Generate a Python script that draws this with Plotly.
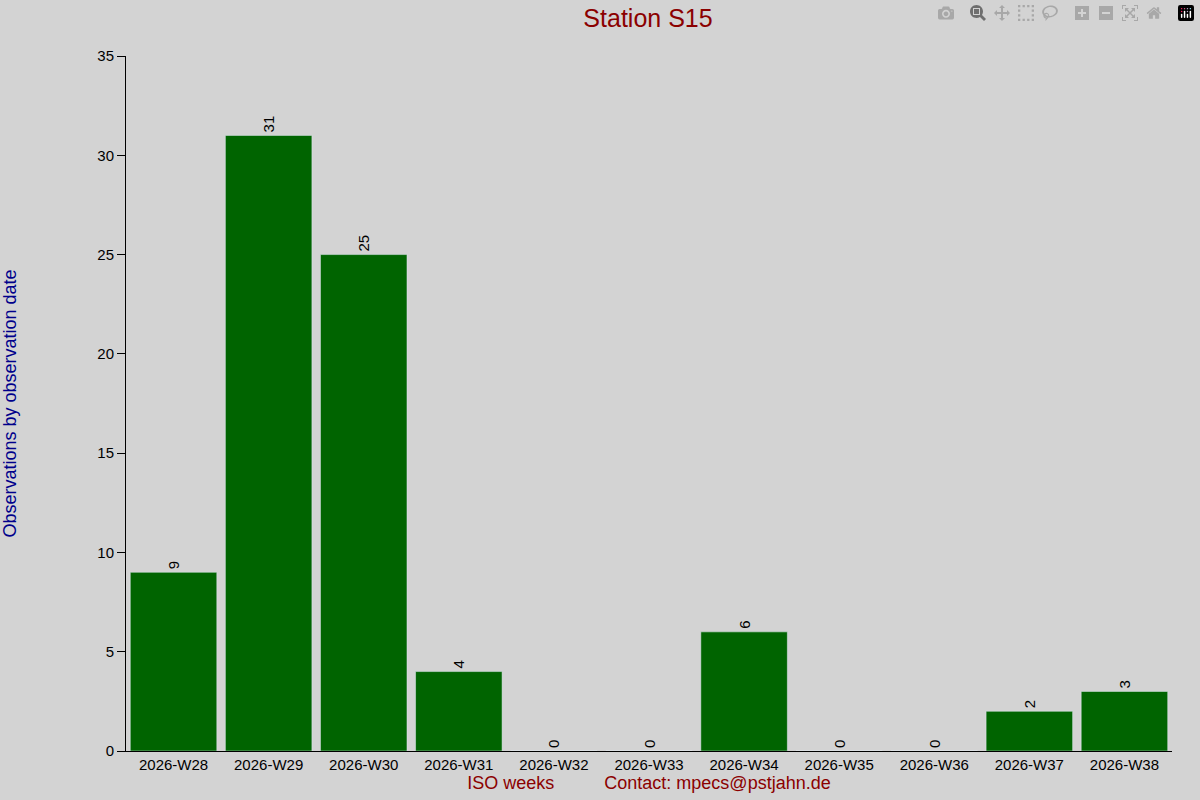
import plotly.graph_objects as go

weeks = ["2026-W28", "2026-W29", "2026-W30", "2026-W31", "2026-W32", "2026-W33",
         "2026-W34", "2026-W35", "2026-W36", "2026-W37", "2026-W38"]
counts = [9, 31, 25, 4, 0, 0, 6, 0, 0, 2, 3]
y_ticks = [0, 5, 10, 15, 20, 25, 30, 35]

fig = go.Figure(go.Bar(
    x=weeks, y=counts, marker_color="#006400",
    text=[str(c) for c in counts], textposition="outside", textangle=-90,
    textfont=dict(color="black", size=15), cliponaxis=False,
))

fig.update_layout(
    width=1200, height=800,
    paper_bgcolor="#d3d3d3", plot_bgcolor="#d3d3d3",
    font=dict(family="Liberation Sans, Arial", size=15, color="black"),
    margin=dict(l=126, r=28, t=56, b=49),
    bargap=0.09,
    title=dict(text="Station S15", x=0.54, xanchor="center", y=0.977, yanchor="middle",
               font=dict(size=25, color="#8b0000")),
    showlegend=False,
)
fig.update_xaxes(
    showline=True, linecolor="black", ticks="", showgrid=False, automargin=False,
    title=dict(text="ISO weeks          Contact: mpecs@pstjahn.de",
               font=dict(color="#8b0000", size=18), standoff=2),
)
fig.update_yaxes(
    range=[0, 35], tickvals=y_ticks, showline=True, linecolor="black",
    ticks="outside", ticklen=8, tickcolor="black", showgrid=False, zeroline=False,
    automargin=False,
    title=dict(text="Observations by observation date", font=dict(color="#00008b", size=18),
               standoff=90),
)

fig.write_html("out.html", post_script="document.body.style.margin='0';")
